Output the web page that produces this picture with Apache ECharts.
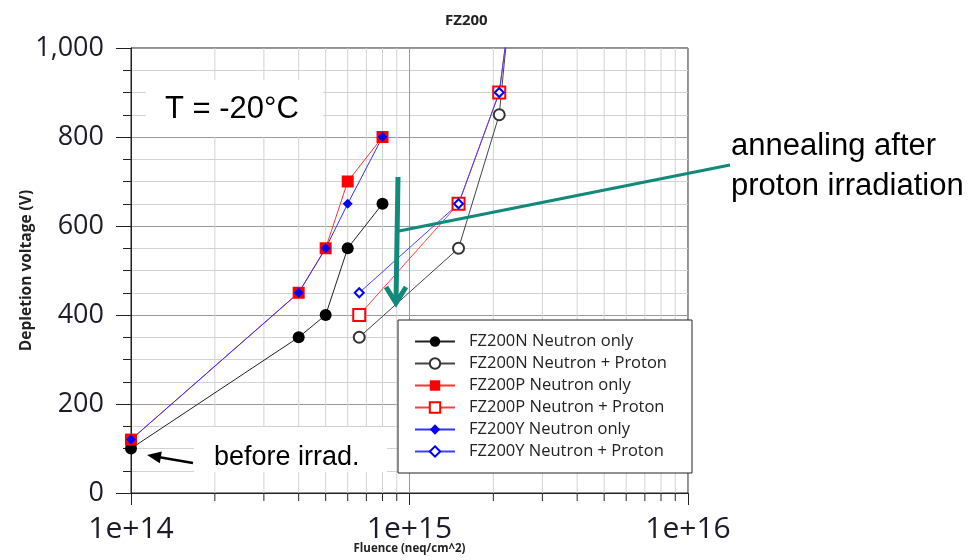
<!DOCTYPE html>
<html>
<head>
<meta charset="utf-8">
<script src="https://cdn.jsdelivr.net/npm/echarts@6/dist/echarts.min.js"></script>
<style>
html,body{margin:0;padding:0;background:#fff;}
#chart{width:980px;height:560px;}
</style>
</head>
<body>
<div id="chart"></div>
<script>
// ---- data ----
const seriesNames = [
  'FZ200N Neutron only',
  'FZ200N Neutron + Proton',
  'FZ200P Neutron only',
  'FZ200P Neutron + Proton',
  'FZ200Y Neutron only',
  'FZ200Y Neutron + Proton'
];
const fluenceNeutron = [1e14, 4e14, 5e14, 6e14, 8e14];
const vN_neutron = [100, 350, 400, 550, 650];
const vP_neutron = [120, 450, 550, 700, 800];
const vY_neutron = [120, 450, 550, 650, 800];

const fluenceN_np = [6.6e14, 1.5e15, 2.1e15, 2.65e15];
const vN_np = [350, 550, 850, 1500];
const fluencePY_np = [6.6e14, 1.5e15, 2.1e15, 2.8e15];
const vP_np = [400, 650, 900, 1500];
const vY_np = [450, 650, 900, 1500];

const minorFluence = [2e14, 3e14, 4e14, 5e14, 6e14, 7e14, 8e14, 9e14,
                      2e15, 3e15, 4e15, 5e15, 6e15, 7e15, 8e15, 9e15];

function pairs(xs, ys) { return xs.map((x, i) => [x, ys[i]]); }

const chart = echarts.init(document.getElementById('chart'), null, {renderer: 'canvas'});

const labelFont = 'Open Sans';

function lineSeries(name, xs, ys, color, lineColor, symbol, size) {
  return {
    name: name,
    type: 'line',
    data: pairs(xs, ys),
    symbol: symbol,
    symbolSize: size,
    clip: true,
    z: 3,
    itemStyle: {color: color, borderColor: color, borderWidth: symbol.indexOf('empty') === 0 ? 1.3 : 0},
    lineStyle: {color: lineColor, width: 1},
    emphasis: {disabled: true},
    animation: false
  };
}

const option = {
  animation: false,
  backgroundColor: '#fff',
  title: {
    text: 'FZ200',
    left: 440,
    top: 8,
    textStyle: {fontFamily: labelFont, fontWeight: 'bold', fontSize: 15, color: '#222'}
  },
  grid: {
    left: 131, right: 292, top: 48, bottom: 67,
    outerBoundsMode: 'none', containLabel: false,
    show: true, borderColor: '#222', borderWidth: 1, backgroundColor: 'transparent'
  },
  legend: {
    orient: 'vertical',
    left: 398, top: 320,
    padding: [13, 22, 13, 16],
    itemWidth: 40, itemHeight: 13, itemGap: 5,
    backgroundColor: '#fff',
    borderColor: '#222', borderWidth: 1,
    data: seriesNames,
    textStyle: {
      fontFamily: labelFont, fontSize: 16.5, color: '#222', lineHeight: 16,
      padding: [0, 0, 0, 9],
      width: 201, overflow: 'truncate', ellipsis: ''
    },
    selectedMode: false
  },
  xAxis: {
    type: 'log', logBase: 10, min: 1e14, max: 1e16,
    name: 'Fluence (neq/cm^2)', nameLocation: 'middle', nameGap: 50,
    nameMoveOverlap: false,
    nameTextStyle: {fontFamily: labelFont, fontWeight: 'bold', fontSize: 11.5, color: '#222'},
    axisLine: {lineStyle: {color: '#222', width: 1}},
    axisTick: {show: true, length: 12, lineStyle: {color: '#222'}},
    axisLabel: {
      fontFamily: labelFont, fontSize: 30, color: '#1c1c28', margin: 21,
      formatter: v => '1e+' + Math.round(Math.log10(v))
    },
    splitLine: {show: true, lineStyle: {color: '#9a9a9a', width: 1}}
  },
  yAxis: {
    type: 'value', min: 0, max: 1000, interval: 200,
    name: 'Depletion voltage (V)', nameLocation: 'middle', nameGap: 96,
    nameMoveOverlap: false,
    nameTextStyle: {fontFamily: labelFont, fontWeight: 'bold', fontSize: 15.5, color: '#222'},
    axisLine: {show: true, lineStyle: {color: '#222', width: 1}},
    axisTick: {show: true, length: 15, lineStyle: {color: '#222'}},
    minorTick: {show: true, splitNumber: 4, length: 8, lineStyle: {color: '#222'}},
    axisLabel: {fontFamily: labelFont, fontSize: 27, color: '#1c1c28', margin: 27},
    splitLine: {show: true, lineStyle: {color: '#9a9a9a', width: 1}},
    minorSplitLine: {show: true, lineStyle: {color: '#d2d2d2', width: 1}}
  },
  series: [
    {
      type: 'custom',
      name: 'minorGrid',
      data: minorFluence.map(v => [v, 0]),
      z: 1,
      silent: true,
      clip: false,
      renderItem: function (params, api) {
        const x = api.coord([api.value(0), 0])[0];
        const top = params.coordSys.y;
        const bottom = top + params.coordSys.height;
        return {
          type: 'group',
          children: [
            {type: 'line', shape: {x1: x, y1: top, x2: x, y2: bottom},
             style: {stroke: '#d2d2d2', lineWidth: 1}},
            {type: 'line', shape: {x1: x, y1: bottom, x2: x, y2: bottom + 8},
             style: {stroke: '#222', lineWidth: 1}}
          ]
        };
      }
    },
    lineSeries(seriesNames[0], fluenceNeutron, vN_neutron, '#000000', '#222222', 'circle', 12),
    lineSeries(seriesNames[1], fluenceN_np, vN_np, '#333333', '#444444', 'emptyCircle', 11),
    lineSeries(seriesNames[2], fluenceNeutron, vP_neutron, '#ff0000', '#ff3030', 'rect', 12),
    lineSeries(seriesNames[3], fluencePY_np, vP_np, '#ff0000', '#ff4040', 'emptyRect', 12),
    lineSeries(seriesNames[4], fluenceNeutron, vY_neutron, '#0000ff', '#3030ff', 'diamond', 10),
    lineSeries(seriesNames[5], fluencePY_np, vY_np, '#0000ff', '#4040ff', 'emptyDiamond', 9)
  ],
  graphic: [
    // T label
    {type: 'rect', shape: {x: 146, y: 80, width: 177, height: 57}, style: {fill: '#fff'}, z: 10},
    {type: 'text', x: 165, y: 109, z: 11,
     style: {text: 'T = -20°C', font: '31px "Liberation Sans", Arial', fill: '#000', verticalAlign: 'middle'}},
    // before irrad.
    {type: 'rect', shape: {x: 194, y: 427, width: 193, height: 45}, style: {fill: '#fff'}, z: 10},
    {type: 'text', x: 214, y: 458, z: 11,
     style: {text: 'before irrad.', font: '27px "Liberation Sans", Arial', fill: '#000', verticalAlign: 'middle'}},
    {type: 'line', shape: {x1: 193, y1: 463, x2: 158, y2: 457}, style: {stroke: '#000', lineWidth: 2.5}, z: 11},
    {type: 'polygon', shape: {points: [[147, 455], [161.8, 451.5], [159.8, 463.3]]}, style: {fill: '#000'}, z: 11},
    // annealing annotation
    {type: 'line', shape: {x1: 399, y1: 231, x2: 730, y2: 165}, style: {stroke: '#11897b', lineWidth: 3}, z: 11},
    {type: 'line', shape: {x1: 398, y1: 177, x2: 396, y2: 302}, style: {stroke: '#11897b', lineWidth: 5}, z: 11},
    {type: 'polyline', shape: {points: [[386, 287], [396, 303], [406, 287]]},
     style: {stroke: '#11897b', lineWidth: 5, fill: null, lineJoin: 'miter'}, z: 11},
    {type: 'text', x: 731, y: 146, z: 11,
     style: {text: 'annealing after', font: '31px "Liberation Sans", Arial', fill: '#000', verticalAlign: 'middle'}},
    {type: 'text', x: 731, y: 186, z: 11,
     style: {text: 'proton irradiation', font: '31px "Liberation Sans", Arial', fill: '#000', verticalAlign: 'middle'}}
  ]
};

chart.setOption(option);
</script>
</body>
</html>
